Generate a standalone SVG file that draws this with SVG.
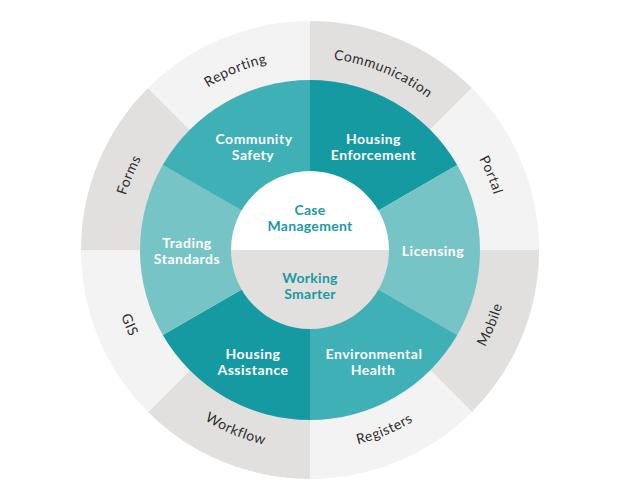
<svg xmlns="http://www.w3.org/2000/svg" xmlns:xlink="http://www.w3.org/1999/xlink" width="621" height="500" viewBox="0 0 621 500">
<style>
.g{fill:#e1e0de}
.lg{fill:#f4f3f3}
.dk{fill:#169aa2}
.md{fill:#3fb0b6}
.lt{fill:#77c4c6}
.ot{font-family:Lato,"Open Sans",sans-serif;font-size:14px;fill:#2e2e2e;letter-spacing:0.5px}
.mt{font-family:Lato,"Open Sans",sans-serif;font-size:14px;font-weight:700;fill:#ffffff;text-anchor:middle;letter-spacing:0.5px}
.ct{font-family:Lato,"Open Sans",sans-serif;font-size:14px;font-weight:700;fill:#1a9aa2;text-anchor:middle;letter-spacing:0.3px}
</style>
<defs>
<path id="pForms" d="M118,250 A192,192 0 0 1 174.24,114.24"/>
<path id="pReporting" d="M174.24,114.24 A192,192 0 0 1 310,58"/>
<path id="pCommunication" d="M310,58 A192,192 0 0 1 445.76,114.24"/>
<path id="pPortal" d="M445.76,114.24 A192,192 0 0 1 502,250"/>
<path id="pGIS" d="M110,250 A200,200 0 0 0 168.58,391.42"/>
<path id="pWorkflow" d="M168.58,391.42 A200,200 0 0 0 310,450"/>
<path id="pRegisters" d="M310,450 A200,200 0 0 0 451.42,391.42"/>
<path id="pMobile" d="M451.42,391.42 A200,200 0 0 0 510,250"/>
</defs>
<rect width="621" height="500" fill="#ffffff"/>

<g id="outer-communication"><path class="g" d="M310,250 L310,21 A229,229 0 0 1 471.93,88.07 Z"/><text class="ot"><textPath xlink:href="#pCommunication" startOffset="50%" text-anchor="middle">Communication</textPath></text></g>
<g id="outer-portal"><path class="lg" d="M310,250 L471.93,88.07 A229,229 0 0 1 539,250 Z"/><text class="ot"><textPath xlink:href="#pPortal" startOffset="50%" text-anchor="middle">Portal</textPath></text></g>
<g id="outer-mobile"><path class="g" d="M310,250 L539,250 A229,229 0 0 1 471.93,411.93 Z"/><text class="ot"><textPath xlink:href="#pMobile" startOffset="50%" text-anchor="middle">Mobile</textPath></text></g>
<g id="outer-registers"><path class="lg" d="M310,250 L471.93,411.93 A229,229 0 0 1 310,479 Z"/><text class="ot"><textPath xlink:href="#pRegisters" startOffset="50%" text-anchor="middle">Registers</textPath></text></g>
<g id="outer-workflow"><path class="g" d="M310,250 L310,479 A229,229 0 0 1 148.07,411.93 Z"/><text class="ot"><textPath xlink:href="#pWorkflow" startOffset="50%" text-anchor="middle">Workflow</textPath></text></g>
<g id="outer-gis"><path class="lg" d="M310,250 L148.07,411.93 A229,229 0 0 1 81,250 Z"/><text class="ot"><textPath xlink:href="#pGIS" startOffset="50%" text-anchor="middle">GIS</textPath></text></g>
<g id="outer-forms"><path class="g" d="M310,250 L81,250 A229,229 0 0 1 148.07,88.07 Z"/><text class="ot"><textPath xlink:href="#pForms" startOffset="50%" text-anchor="middle">Forms</textPath></text></g>
<g id="outer-reporting"><path class="lg" d="M310,250 L148.07,88.07 A229,229 0 0 1 310,21 Z"/><text class="ot"><textPath xlink:href="#pReporting" startOffset="50%" text-anchor="middle">Reporting</textPath></text></g>

<g id="housing-enforcement"><path class="dk" d="M310,250 L310,80 A170,170 0 0 1 457.22,165 Z"/><text class="mt"><tspan x="373.5" y="144">Housing</tspan><tspan x="373.5" y="160">Enforcement</tspan></text></g>
<g id="licensing"><path class="lt" d="M310,250 L457.22,165 A170,170 0 0 1 457.22,335 Z"/><text class="mt" x="433" y="256">Licensing</text></g>
<g id="environmental-health"><path class="md" d="M310,250 L457.22,335 A170,170 0 0 1 310,420 Z"/><text class="mt"><tspan x="374" y="358.5">Environmental</tspan><tspan x="373" y="374.5">Health</tspan></text></g>
<g id="housing-assistance"><path class="dk" d="M310,250 L310,420 A170,170 0 0 1 162.78,335 Z"/><text class="mt"><tspan x="253" y="359">Housing</tspan><tspan x="253" y="375">Assistance</tspan></text></g>
<g id="trading-standards"><path class="lt" d="M310,250 L162.78,335 A170,170 0 0 1 162.78,165 Z"/><text class="mt"><tspan x="187" y="247.5">Trading</tspan><tspan x="187" y="264">Standards</tspan></text></g>
<g id="community-safety"><path class="md" d="M310,250 L162.78,165 A170,170 0 0 1 310,80 Z"/><text class="mt"><tspan x="254" y="144">Community</tspan><tspan x="253" y="160">Safety</tspan></text></g>

<g id="case-management"><path fill="#ffffff" d="M231,250 A79,79 0 0 1 389,250 Z"/><text class="ct"><tspan x="310" y="214.5">Case</tspan><tspan x="310" y="231">Management</tspan></text></g>
<g id="working-smarter"><path fill="#e1e0de" d="M231,250 A79,79 0 0 0 389,250 Z"/><text class="ct"><tspan x="310" y="282.5">Working</tspan><tspan x="310" y="298.5">Smarter</tspan></text></g>
</svg>
